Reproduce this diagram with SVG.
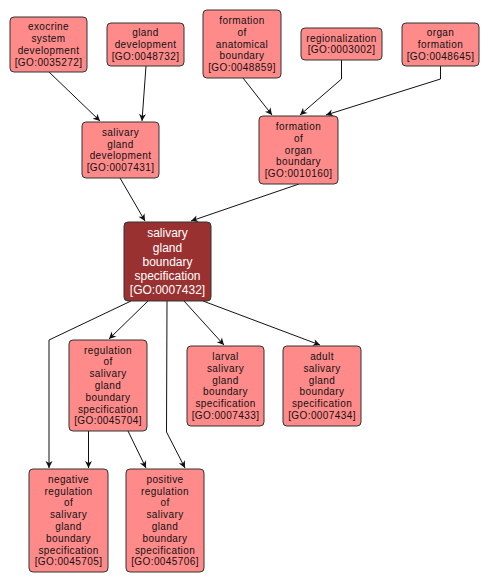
<svg xmlns="http://www.w3.org/2000/svg" width="490" height="585" viewBox="0 0 490 585">
<defs>
<style>
.n rect{fill:#ff8a8a;stroke:#333;stroke-width:1}
.n text{font-family:"Liberation Sans",Arial,sans-serif;font-size:10px;letter-spacing:0.4px;fill:#111;text-anchor:middle}
#n8 rect{fill:#993131;stroke:#333}
#n8 text{font-size:12px;letter-spacing:0;fill:#fff}
.e path{fill:none;stroke:#111;stroke-width:1;marker-end:url(#a)}
</style>
<marker id="a" viewBox="-8 -4 9 8" refX="0" refY="0" markerWidth="9" markerHeight="8" markerUnits="userSpaceOnUse" orient="auto">
<path d="M0,0 L-7,-3.5 L-5,0 L-7,3.5 z" fill="#111"/>
</marker>
</defs>
<rect width="490" height="585" fill="#fff"/>
<g class="e" id="edges">
<path d="M49,72 L100,121"/>
<path d="M146,66 L142,121"/>
<path d="M243,78 L272,115"/>
<path d="M341.5,60 L341.5,79 L300,115"/>
<path d="M440.5,66 L440.5,79 L326,115"/>
<path d="M120,178 L145,221"/>
<path d="M299,184 L191,221"/>
<path d="M131,301 L49,340 L49,468"/>
<path d="M148,301 L109,339"/>
<path d="M167,301 L166.5,432 L185,468"/>
<path d="M184,301 L224,345"/>
<path d="M203,301 L320,345"/>
<path d="M88.5,431 L88.5,468"/>
<path d="M128,431 L146,468"/>
</g>
<g class="n" id="n1"><rect x="10" y="17" width="77" height="55" rx="4"/><text x="48.5" y="30.3"><tspan x="48.5">exocrine</tspan><tspan x="48.5" dy="11.8">system</tspan><tspan x="48.5" dy="11.8">development</tspan><tspan x="48.5" dy="11.8">[GO:0035272]</tspan></text></g>
<g class="n" id="n2"><rect x="107" y="23" width="77" height="43" rx="4"/><text x="145.5" y="36.2"><tspan x="145.5">gland</tspan><tspan x="145.5" dy="11.8">development</tspan><tspan x="145.5" dy="11.8">[GO:0048732]</tspan></text></g>
<g class="n" id="n3"><rect x="203" y="10" width="78" height="68" rx="4"/><text x="242" y="23.9"><tspan x="242">formation</tspan><tspan x="242" dy="11.8">of</tspan><tspan x="242" dy="11.8">anatomical</tspan><tspan x="242" dy="11.8">boundary</tspan><tspan x="242" dy="11.8">[GO:0048859]</tspan></text></g>
<g class="n" id="n4"><rect x="301" y="28" width="81" height="32" rx="4"/><text x="341.5" y="41.6"><tspan x="341.5">regionalization</tspan><tspan x="341.5" dy="11.8">[GO:0003002]</tspan></text></g>
<g class="n" id="n5"><rect x="402" y="23" width="77" height="43" rx="4"/><text x="440.5" y="36.2"><tspan x="440.5">organ</tspan><tspan x="440.5" dy="11.8">formation</tspan><tspan x="440.5" dy="11.8">[GO:0048645]</tspan></text></g>
<g class="n" id="n6"><rect x="82" y="122" width="77" height="56" rx="4"/><text x="120.5" y="135.8"><tspan x="120.5">salivary</tspan><tspan x="120.5" dy="11.8">gland</tspan><tspan x="120.5" dy="11.8">development</tspan><tspan x="120.5" dy="11.8">[GO:0007431]</tspan></text></g>
<g class="n" id="n7"><rect x="259" y="116" width="79" height="68" rx="4"/><text x="298.5" y="129.9"><tspan x="298.5">formation</tspan><tspan x="298.5" dy="11.8">of</tspan><tspan x="298.5" dy="11.8">organ</tspan><tspan x="298.5" dy="11.8">boundary</tspan><tspan x="298.5" dy="11.8">[GO:0010160]</tspan></text></g>
<g class="n" id="n8"><rect x="124" y="222" width="87" height="79" rx="4"/><text x="167.5" y="237.2"><tspan x="167.5">salivary</tspan><tspan x="167.5" dy="14.3">gland</tspan><tspan x="167.5" dy="14.3">boundary</tspan><tspan x="167.5" dy="14.3">specification</tspan><tspan x="167.5" dy="14.3">[GO:0007432]</tspan></text></g>
<g class="n" id="n9"><rect x="69" y="340" width="78" height="91" rx="4"/><text x="108" y="353.6"><tspan x="108">regulation</tspan><tspan x="108" dy="11.8">of</tspan><tspan x="108" dy="11.8">salivary</tspan><tspan x="108" dy="11.8">gland</tspan><tspan x="108" dy="11.8">boundary</tspan><tspan x="108" dy="11.8">specification</tspan><tspan x="108" dy="11.8">[GO:0045704]</tspan></text></g>
<g class="n" id="n10"><rect x="187" y="346" width="77" height="80" rx="4"/><text x="225.5" y="360"><tspan x="225.5">larval</tspan><tspan x="225.5" dy="11.8">salivary</tspan><tspan x="225.5" dy="11.8">gland</tspan><tspan x="225.5" dy="11.8">boundary</tspan><tspan x="225.5" dy="11.8">specification</tspan><tspan x="225.5" dy="11.8">[GO:0007433]</tspan></text></g>
<g class="n" id="n11"><rect x="283" y="346" width="78" height="80" rx="4"/><text x="322" y="360"><tspan x="322">adult</tspan><tspan x="322" dy="11.8">salivary</tspan><tspan x="322" dy="11.8">gland</tspan><tspan x="322" dy="11.8">boundary</tspan><tspan x="322" dy="11.8">specification</tspan><tspan x="322" dy="11.8">[GO:0007434]</tspan></text></g>
<g class="n" id="n12"><rect x="29" y="469" width="79" height="103" rx="4"/><text x="68.5" y="482.7"><tspan x="68.5">negative</tspan><tspan x="68.5" dy="11.8">regulation</tspan><tspan x="68.5" dy="11.8">of</tspan><tspan x="68.5" dy="11.8">salivary</tspan><tspan x="68.5" dy="11.8">gland</tspan><tspan x="68.5" dy="11.8">boundary</tspan><tspan x="68.5" dy="11.8">specification</tspan><tspan x="68.5" dy="11.8">[GO:0045705]</tspan></text></g>
<g class="n" id="n13"><rect x="126" y="469" width="78" height="103" rx="4"/><text x="165" y="482.7"><tspan x="165">positive</tspan><tspan x="165" dy="11.8">regulation</tspan><tspan x="165" dy="11.8">of</tspan><tspan x="165" dy="11.8">salivary</tspan><tspan x="165" dy="11.8">gland</tspan><tspan x="165" dy="11.8">boundary</tspan><tspan x="165" dy="11.8">specification</tspan><tspan x="165" dy="11.8">[GO:0045706]</tspan></text></g>
</svg>
